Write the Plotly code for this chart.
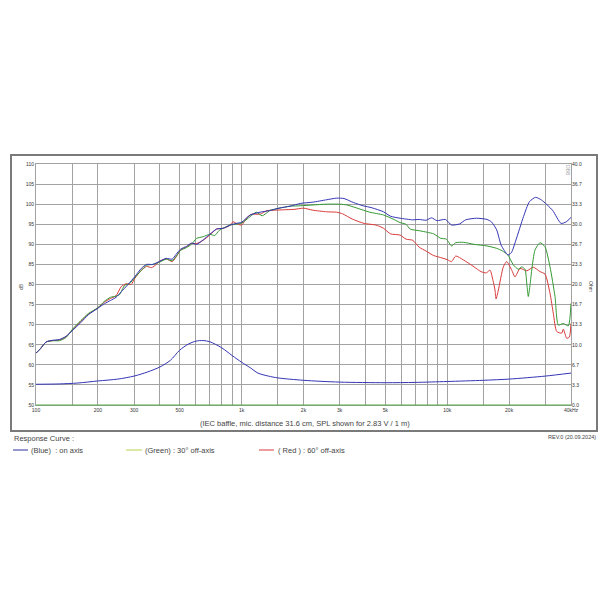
import plotly.graph_objects as go

# ---------------- data ----------------
freq_blue = [100, 105, 112, 120, 130, 140, 150, 165, 180, 200, 215, 230, 245, 260, 280, 303, 325, 345, 370,
             400, 430, 460, 480, 505, 540, 570, 605, 650, 700, 755, 815, 880, 940, 1000, 1100, 1230, 1370,
             1520, 1720, 1940, 2220, 2590, 2900, 3150, 3500, 3900, 4300, 4900, 5300, 5900, 6800, 7300,
             7900, 8400, 8900, 9800, 10500, 11500, 12300, 13900, 15600, 16400, 17400, 18300, 19700,
             20500, 21600, 23500, 25100, 26900, 28800, 32500, 35800, 37900, 40000]
spl_blue = [62.9, 64.0, 65.7, 66.1, 66.3, 67.1, 68.5, 70.5, 72.5, 74.1, 75.2, 76.0, 76.8, 78.2, 80.0, 82.0,
            84.0, 85.0, 85.0, 85.8, 86.5, 86.3, 87.5, 88.8, 89.5, 90.3, 90.0, 91.1, 92.5, 93.8, 94.0, 94.8,
            95.2, 95.5, 97.3, 98.0, 98.4, 99.0, 99.5, 100.2, 100.5, 101.1, 101.5, 101.4, 100.4, 99.6, 99.1,
            98.1, 97.0, 96.5, 96.1, 96.2, 96.0, 96.6, 95.9, 96.2, 94.8, 95.1, 96.1, 96.5, 96.2, 95.6, 93.6,
            89.8, 87.4, 87.9, 91.1, 96.9, 100.6, 101.7, 101.0, 98.5, 95.2, 95.6, 96.7]

freq_green = [100, 105, 112, 120, 130, 140, 150, 165, 180, 200, 215, 230, 245, 255, 270, 285, 303, 325, 345,
              370, 400, 430, 460, 480, 505, 540, 570, 605, 650, 700, 740, 780, 880, 1000, 1100, 1180, 1260,
              1370, 1520, 1720, 1940, 2220, 2590, 3000, 3250, 3650, 4200, 4900, 5500, 5900, 6300, 6600,
              7300, 8000, 8600, 9300, 9900, 10500, 11000, 12000, 13500, 15600, 17400, 18500, 19700, 20960,
              22170, 23040, 23900, 24400, 24800, 25300, 25770, 26730, 28280, 29900, 31620, 33440, 34710,
              36700, 38820, 40000]
spl_green = [62.9, 64.0, 65.7, 66.0, 66.0, 66.8, 68.8, 71.0, 72.8, 74.2, 75.8, 76.8, 77.1, 77.5, 79.8, 80.2,
             81.8, 83.5, 84.8, 85.0, 85.6, 86.3, 85.9, 87.0, 88.5, 89.2, 90.0, 91.5, 91.9, 92.5, 92.2, 93.5,
             94.8, 95.3, 96.9, 98.0, 97.1, 98.4, 99.0, 99.5, 99.6, 99.8, 100.0, 100.0, 99.8, 99.0, 98.0,
             97.3, 96.2, 95.4, 95.0, 93.8, 93.4, 93.0, 92.6, 91.5, 91.3, 89.6, 90.4, 90.5, 90.0, 89.6, 89.0,
             88.4, 87.4, 84.9, 83.8, 84.4, 83.8, 80.0, 77.0, 80.0, 83.6, 88.6, 90.4, 89.4, 84.4, 77.0, 69.9,
             70.3, 69.7, 75.3]

freq_red = [100, 105, 112, 120, 130, 140, 150, 165, 180, 200, 215, 230, 245, 260, 275, 290, 303, 325, 345,
            365, 385, 400, 430, 460, 485, 505, 540, 570, 605, 650, 700, 755, 815, 870, 910, 960, 1000, 1060,
            1120, 1230, 1330, 1450, 1600, 1800, 2000, 2220, 2590, 2900, 3100, 3450, 3950, 4500, 4900, 5300,
            5900, 6300, 6800, 7300, 7900, 8600, 9300, 10000, 10500, 11000, 12000, 13500, 14600, 15500,
            16150, 16700, 17080, 17280, 17730, 18750, 19470, 20590, 21370, 22600, 24360, 26230, 28280,
            29900, 31620, 32810, 34090, 36060, 36700, 38130, 39260, 40000]
spl_red = [62.9, 64.0, 65.7, 66.0, 66.2, 67.0, 68.6, 70.8, 72.6, 74.2, 75.6, 76.5, 77.2, 79.5, 80.2, 80.0,
           81.6, 83.5, 84.5, 84.2, 85.0, 85.8, 86.4, 85.7, 87.2, 88.6, 89.4, 90.2, 90.2, 91.0, 92.3, 93.8,
           94.0, 94.6, 95.6, 95.0, 94.8, 96.6, 97.5, 97.5, 98.4, 98.5, 98.6, 98.7, 99.0, 98.5, 98.1, 98.0,
           97.6, 96.3, 95.2, 94.8, 94.0, 92.6, 92.3, 91.3, 91.0, 89.3, 88.3, 87.2, 86.7, 86.2, 85.7, 87.1,
           86.1, 84.4, 83.2, 82.9, 83.6, 81.0, 78.6, 76.4, 78.6, 84.4, 85.7, 83.6, 81.9, 84.0, 83.4, 84.3,
           83.2, 82.6, 77.8, 72.8, 68.3, 67.9, 68.9, 66.6, 66.9, 70.3]

freq_imp = [100, 130, 160, 200, 250, 300, 350, 400, 450, 500, 550, 600, 650, 700, 800, 900, 1000, 1100,
            1200, 1350, 1500, 2000, 3000, 5000, 7000, 10000, 15000, 20000, 30000, 40000]
ohm_imp = [3.44, 3.5, 3.65, 3.99, 4.3, 4.8, 5.5, 6.3, 7.4, 9.1, 10.1, 10.6, 10.7, 10.5, 9.5, 8.2, 7.1, 6.2,
           5.3, 4.8, 4.5, 4.1, 3.8, 3.7, 3.75, 3.9, 4.1, 4.3, 4.8, 5.3]

grid_freqs = [100, 150, 200, 300, 400, 500, 600, 700, 800, 900, 1000, 1500, 2000, 3000, 4000, 5000, 6000,
              7000, 8000, 9000, 10000, 15000, 20000, 30000, 40000]
freq_labels = {100: "100", 200: "200", 300: "300", 500: "500", 1000: "1k", 2000: "2k", 3000: "3k",
               5000: "5k", 10000: "10k", 20000: "20k", 40000: "40kHz"}
db_ticks = list(range(50, 111, 5))
ohm_ticks = [0.0, 3.3, 6.7, 10.0, 13.3, 16.7, 20.0, 23.3, 26.7, 30.0, 33.3, 36.7, 40.0]

# ---------------- figure ----------------
C_BLUE = "#3535b5"
C_GREEN = "#339933"
C_RED = "#d83a3a"
GRID = "#a2a2a2"
FONT = "Liberation Sans, Arial, sans-serif"

fig = go.Figure()
fig.add_trace(go.Scatter(x=freq_imp, y=ohm_imp, yaxis="y2", mode="lines",
                         line=dict(color=C_BLUE, width=1, shape="spline", smoothing=0.8), showlegend=False))
fig.add_trace(go.Scatter(x=freq_red, y=spl_red, mode="lines",
                         line=dict(color=C_RED, width=1, shape="spline", smoothing=0.6), showlegend=False))
fig.add_trace(go.Scatter(x=freq_green, y=spl_green, mode="lines",
                         line=dict(color=C_GREEN, width=1, shape="spline", smoothing=0.6), showlegend=False))
fig.add_trace(go.Scatter(x=freq_blue, y=spl_blue, mode="lines",
                         line=dict(color=C_BLUE, width=1, shape="spline", smoothing=0.6), showlegend=False))

OFF = 8  # default page body margin
W = H = 610 - 2 * OFF
L, R, T, B = 36 - OFF, 571 - OFF, 164 - OFF, 405 - OFF


def px(x):
    return (x - OFF - L) / (R - L)


def py(y):
    return (B - (y - OFF)) / (B - T)


fig.update_layout(
    width=W, height=H,
    margin=dict(l=L, r=W - R, t=T, b=H - B, pad=0),
    paper_bgcolor="white", plot_bgcolor="white",
    font=dict(family=FONT, color="#333333", size=5),
    xaxis=dict(type="log", range=[2, 4.60206], tickvals=grid_freqs,
               ticktext=[freq_labels.get(f, "") for f in grid_freqs],
               showgrid=True, gridcolor=GRID, gridwidth=1, ticks="", zeroline=False,
               showline=True, linecolor=GRID, mirror=True, tickfont=dict(size=5, color="#333333"),
               tickangle=0),
    yaxis=dict(range=[50, 110], tickvals=db_ticks, ticktext=[str(v) for v in db_ticks],
               showgrid=True, gridcolor=GRID, gridwidth=1, ticks="", zeroline=False,
               showline=True, linecolor=GRID, mirror=True, tickfont=dict(size=5, color="#333333")),
    yaxis2=dict(range=[0, 40], overlaying="y", side="right", tickvals=[i * 40 / 12 for i in range(13)],
                ticktext=["%.1f" % v for v in ohm_ticks], showgrid=False, ticks="", zeroline=False,
                showline=False, tickfont=dict(size=5, color="#333333")),
)

shapes = []
# outer frame
shapes.append(dict(type="rect", xref="paper", yref="paper", x0=px(11), x1=px(597), y0=py(431), y1=py(155),
                   line=dict(color="#7a7a7a", width=2), fillcolor="rgba(0,0,0,0)", layer="below"))
# green bottom axis line
shapes.append(dict(type="line", xref="paper", yref="paper", x0=0, x1=1, y0=0, y1=0,
                   line=dict(color="#55aa44", width=1)))
# legend line samples
for x0, x1, col in [(13, 28, "#3030a0"), (126, 142, "#b4d050"), (259, 274, "#d83a3a")]:
    shapes.append(dict(type="line", xref="paper", yref="paper", x0=px(x0), x1=px(x1), y0=py(450), y1=py(450),
                       line=dict(color=col, width=1)))
fig.update_layout(shapes=shapes)

ann = []


def text(x, y, s, size=7.5, xanchor="left", angle=0, color="#444444"):
    ann.append(dict(xref="paper", yref="paper", x=px(x), y=py(y), text=s, showarrow=False,
                    xanchor=xanchor, yanchor="middle", textangle=angle,
                    font=dict(size=size, color=color, family=FONT)))


text(21, 287, "dB", size=5, xanchor="center", angle=-90)
text(591, 286, "Ohm", size=5, xanchor="center", angle=90)
text(568, 170, "DBB", size=5, xanchor="center", angle=90, color="#aaaaaa")
text(305, 423, "(IEC baffle, mic. distance 31.6 cm, SPL shown for 2.83 V / 1 m)", size=7.5, xanchor="center")
text(12, 438, "Response Curve :", size=7.5)
text(598, 437, "REV.0 (20.09.2024)", size=5.5, xanchor="right")
text(29, 450, "(Blue)  : on axis", size=7.5)
text(143, 450, "(Green) : 30° off-axis", size=7.5)
text(276, 450, "( Red ) : 60° off-axis", size=7.5)
fig.update_layout(annotations=ann)

fig.write_html("out.html")
